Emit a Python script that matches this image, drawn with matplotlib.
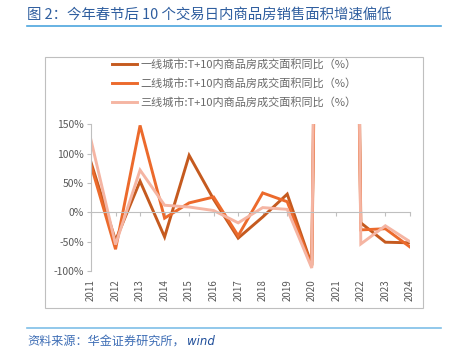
import matplotlib.pyplot as plt
import matplotlib.patches as patches
import numpy as np

plt.rcParams['font.family'] = ['Noto Sans CJK SC', 'DejaVu Sans']
plt.rcParams['axes.unicode_minus'] = False

# 年份与三类城市 T+10 商品房成交面积同比（%）
years = ['2011', '2012', '2013', '2014', '2015', '2016', '2017',
         '2018', '2019', '2020', '2021', '2022', '2023', '2024']
tier1 = [85, -48, 53, -42, 97, 22, -44, -8, 31, -90, 3500, -18, -51, -52]
tier2 = [80, -63, 148, -10, 16, 26, -40, 33, 18, -92, 3000, -30, -28, -59]
tier3 = [123, -55, 72, 12, 9, 3, -18, 8, 5, -95, 4000, -54, -23, -50]

names = ['一线城市:T+10内商品房成交面积同比（%）',
         '二线城市:T+10内商品房成交面积同比（%）',
         '三线城市:T+10内商品房成交面积同比（%）']
colors = ['#C55A1F', '#EC6A2C', '#F5B5A3']

fig = plt.figure(figsize=(4.51, 3.51), dpi=100)
ax = fig.add_axes([0.2018, 0.228, 0.707, 0.418])

x = np.arange(len(years))
for vals, name, c in zip([tier1, tier2, tier3], names, colors):
    ax.plot(x, vals, color=c, lw=2.1, label=name, solid_joinstyle='miter')

ax.set_xlim(0, len(years) - 1)
ax.set_ylim(-100, 150)
ax.set_yticks(np.arange(-100, 151, 50))
ax.set_yticklabels([f'{v}%' for v in range(-100, 151, 50)])

gray = '#595959'
for s in ['top', 'right']:
    ax.spines[s].set_visible(False)
ax.spines['left'].set_color('#BFBFBF')
ax.spines['left'].set_linewidth(0.8)
ax.spines['bottom'].set_position(('data', 0))
ax.spines['bottom'].set_color('#BFBFBF')
ax.spines['bottom'].set_linewidth(0.8)
ax.tick_params(axis='y', colors='#BFBFBF', labelcolor=gray, labelsize=7.5,
               length=3, width=0.8, pad=2)
ax.set_xticks(x)
ax.tick_params(axis='x', colors='#BFBFBF', length=3, width=0.8,
               labelbottom=False)

sec = ax.secondary_xaxis(0)
sec.set_xticks(x)
sec.set_xticklabels(years, rotation=90)
sec.tick_params(length=0, labelsize=7, labelcolor=gray, pad=6)
sec.spines['bottom'].set_visible(False)

ax.legend(loc='upper left', bbox_to_anchor=(0.238, 0.845),
          bbox_transform=fig.transFigure, frameon=False, fontsize=8,
          handlelength=2.3, handletextpad=0.25, labelspacing=0.75,
          borderaxespad=0, labelcolor='#6A6A6A')

# 外框与标题
fig.patches.append(patches.Rectangle((0.099, 0.123), 0.839, 0.715,
                                     transform=fig.transFigure, fill=False,
                                     edgecolor='#BFBFBF', lw=0.8))
fig.text(0.06, 0.958, '图 2：今年春节后 10 个交易日内商品房销售面积增速偏低',
         fontsize=10.4, color='#2F5E9F', va='center', ha='left')
fig.add_artist(plt.Line2D([0.06, 0.978], [0.926, 0.926], color='#4DA6DE',
                          lw=1.2, transform=fig.transFigure))
fig.add_artist(plt.Line2D([0.06, 0.978], [0.066, 0.066], color='#7EBFE8',
                          lw=1.2, transform=fig.transFigure))
fig.text(0.06, 0.028, '资料来源：华金证券研究所，', fontsize=8.7,
         color='#3D6DB5', style='italic', va='center', ha='left')
fig.text(0.415, 0.028, 'wind', fontsize=8.5, color='#1F4E9A',
         style='italic', va='center', ha='left', family='DejaVu Sans')

fig.savefig('out.png', dpi=100)
